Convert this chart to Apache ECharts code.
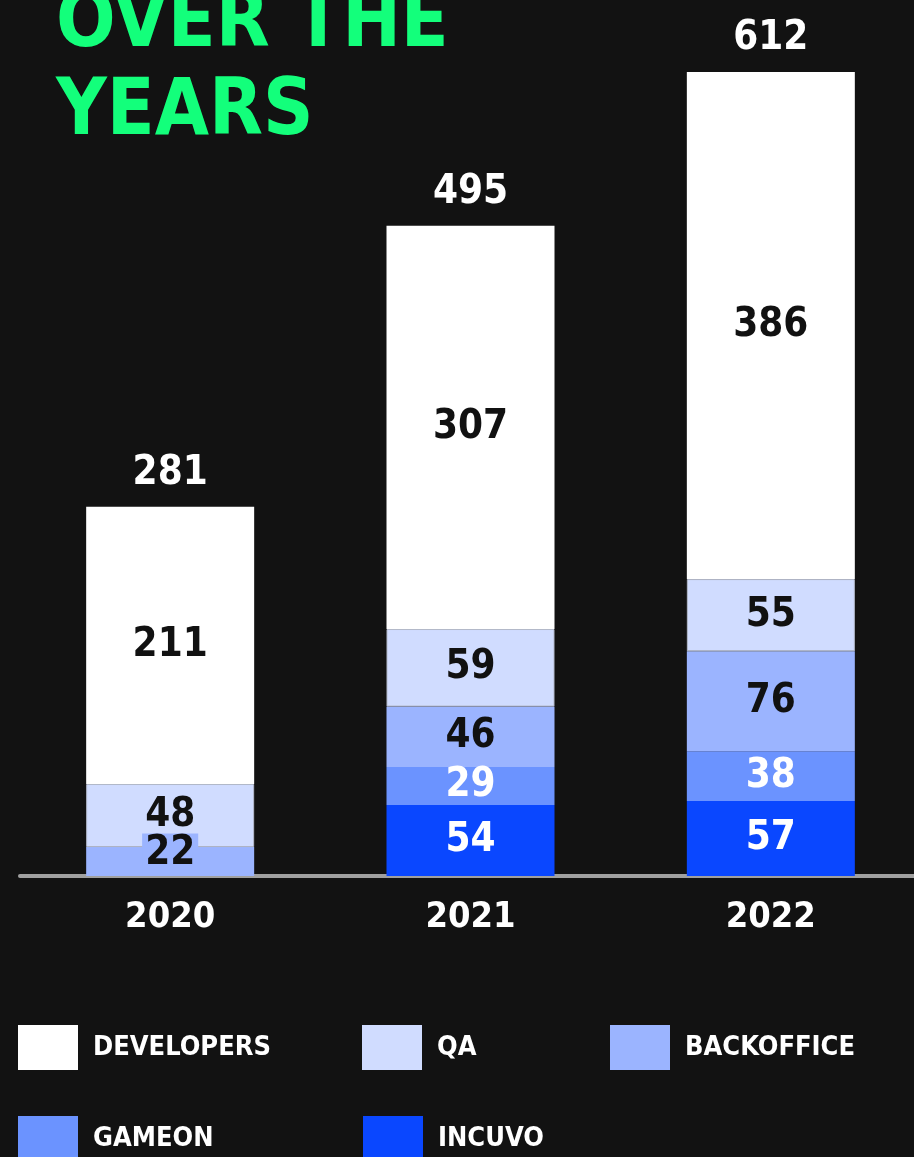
<!DOCTYPE html>
<html>
<head>
<meta charset="utf-8">
<script src="https://cdn.jsdelivr.net/npm/echarts@6/dist/echarts.min.js"></script>
<style>
  html, body { margin: 0; padding: 0; background: #121212; overflow: hidden; }
  #chart { width: 930px; height: 1157px; }
</style>
</head>
<body>
<div id="chart"></div>
<script>
const years = ['2020', '2021', '2022'];
const incuvo = [0, 54, 57];
const gameon = [0, 29, 38];
const backoffice = [22, 46, 76];
const qa = [48, 59, 55];
const developers = [211, 307, 386];
const totals = [281, 495, 612];

const FONT = "'Liberation Sans Narrow', 'DejaVu Sans Condensed', sans-serif";
const dark = '#111111';

function segLabel(color) {
    return {
        show: true,
        position: 'inside',
        color: color,
        fontFamily: FONT,
        fontWeight: 'bold',
        fontSize: 40,
        formatter: p => p.value ? p.value : ''
    };
}

function bar(name, data, fill, textColor, extra) {
    return Object.assign({
        name: name,
        type: 'bar',
        stack: 'staff',
        barWidth: 168,
        data: data,
        itemStyle: { color: fill },
        label: segLabel(textColor)
    }, extra || {});
}

// small backoffice value gets its own boxed label, as in the picture
const backofficeData = backoffice.map(v => v < 30 ? {
    value: v,
    label: { backgroundColor: '#9bb4ff', padding: [0, 3], offset: [0, -8] }
} : v);

const legendPos = [
    ['DEVELOPERS', 18, 1025],
    ['QA', 362, 1025],
    ['BACKOFFICE', 610, 1025],
    ['GAMEON', 18, 1116],
    ['INCUVO', 363, 1116]
];

const chart = echarts.init(document.getElementById('chart'));
chart.setOption({
    backgroundColor: '#121212',
    animation: false,
    title: {
        text: 'OVER THE\nYEARS',
        left: 56,
        top: -18,
        padding: 0,
        textStyle: {
            color: '#13ff7b',
            fontFamily: FONT,
            fontWeight: 'bold',
            fontSize: 78,
            lineHeight: 88
        }
    },
    legend: legendPos.map(([n, x, y]) => ({
        data: [n],
        left: x,
        top: y,
        padding: 0,
        icon: 'rect',
        itemWidth: 60,
        itemHeight: 45,
        selectedMode: false,
        itemStyle: { borderWidth: 0 },
        textStyle: {
            color: '#ffffff',
            fontFamily: FONT,
            fontWeight: 'bold',
            fontSize: 27,
            padding: [0, 0, 0, 10]
        }
    })),
    grid: { left: 20, width: 901, top: 72, bottom: 281 },
    xAxis: {
        type: 'category',
        data: years,
        axisLine: { lineStyle: { color: '#a0a0a0', width: 4 } },
        axisTick: { show: false },
        axisLabel: {
            color: '#ffffff',
            fontFamily: FONT,
            fontWeight: 'bold',
            fontSize: 36,
            margin: 24
        }
    },
    yAxis: {
        type: 'value',
        min: 0,
        max: 612,
        show: false,
        splitLine: { show: false }
    },
    series: [
        bar('INCUVO', incuvo, '#0a47ff', '#ffffff'),
        bar('GAMEON', gameon, '#6b93ff', '#ffffff'),
        bar('BACKOFFICE', backofficeData, '#9bb4ff', dark),
        bar('QA', qa, '#d0dcff', dark, {
            itemStyle: { color: '#d0dcff', borderColor: '#b4bacb', borderWidth: 1 }
        }),
        bar('DEVELOPERS', developers, '#ffffff', dark),
        {
            name: 'Total',
            type: 'bar',
            stack: 'staff',
            barWidth: 168,
            data: totals.map(() => 0),
            itemStyle: { color: 'transparent' },
            label: {
                show: true,
                position: 'top',
                distance: 13,
                color: '#ffffff',
                fontFamily: FONT,
                fontWeight: 'bold',
                fontSize: 40,
                formatter: p => totals[p.dataIndex]
            }
        }
    ]
});
</script>
</body>
</html>
